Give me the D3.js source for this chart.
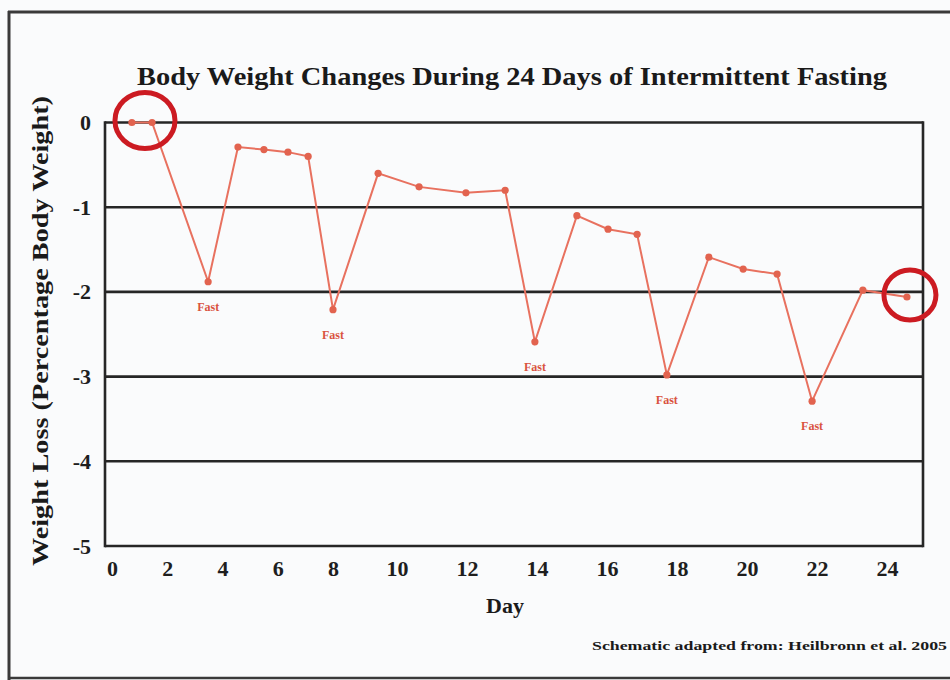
<!DOCTYPE html>
<html>
<head>
<meta charset="utf-8">
<script src="https://cdn.jsdelivr.net/npm/d3@7"></script>
<style>
  html, body { margin: 0; padding: 0; background: #fafbfc; }
  svg { display: block; }
  text { font-family: "Liberation Serif", "DejaVu Serif", serif; font-weight: bold; }
</style>
</head>
<body>
<svg id="chart" width="950" height="680"></svg>
<script>
// ---- data ----
const days = [0.72, 1.45, 3.48, 4.56, 5.5, 6.37, 7.1, 8.0, 9.41, 10.63, 11.97, 13.09, 13.94,
              15.14, 16.03, 16.86, 17.71, 18.91, 19.89, 20.86, 21.86, 23.31, 24.57];
const weightChange = [0, 0, -1.88, -0.29, -0.32, -0.35, -0.40, -2.21, -0.60, -0.76, -0.83, -0.80,
                      -2.59, -1.10, -1.26, -1.32, -2.98, -1.59, -1.73, -1.79, -3.29, -1.98, -2.06];
const fastIndex = [2, 7, 12, 16, 20];
const fastLabel = "Fast";
const xTicks = [0, 2, 4, 6, 8, 10, 12, 14, 16, 18, 20, 22, 24];
const yTicks = [0, -1, -2, -3, -4, -5];
const circledIndex = [[0, 1], [22]];
const titleText = "Body Weight Changes During 24 Days of Intermittent Fasting";
const xTitle = "Day";
const yTitle = "Weight Loss (Percentage Body Weight)";
const sourceText = "Schematic adapted from:  Heilbronn et al. 2005";

const svg = d3.select("#chart");

// outer frame
svg.append("line").attr("x1", 8).attr("x2", 950).attr("y1", 12).attr("y2", 12)
  .attr("stroke", "#3a3a3a").attr("stroke-width", 3);
svg.append("line").attr("x1", 9).attr("x2", 9).attr("y1", 11).attr("y2", 680)
  .attr("stroke", "#3a3a3a").attr("stroke-width", 3);
svg.append("line").attr("x1", 8).attr("x2", 950).attr("y1", 678).attr("y2", 678)
  .attr("stroke", "#3a3a3a").attr("stroke-width", 2.5);

// scales (the schematic's day axis is not uniform; piecewise linear)
const x = d3.scaleLinear().domain([0, 8, 10, 24]).range([112, 333, 397, 887]);
const y = d3.scaleLinear().domain([0, -5]).range([122.5, 546]);
const plotLeft = 105, plotRight = 923;

// gridlines
svg.append("g").selectAll("line").data(yTicks).join("line")
  .attr("x1", plotLeft).attr("x2", plotRight)
  .attr("y1", d => y(d)).attr("y2", d => y(d))
  .attr("stroke", "#262626").attr("stroke-width", 2.6);
// plot borders left/right
svg.append("line").attr("x1", plotLeft).attr("x2", plotLeft).attr("y1", y(0) - 1.3).attr("y2", y(-5) + 1.3)
  .attr("stroke", "#262626").attr("stroke-width", 2.6);
svg.append("line").attr("x1", plotRight).attr("x2", plotRight).attr("y1", y(0) - 1.3).attr("y2", y(-5) + 1.3)
  .attr("stroke", "#262626").attr("stroke-width", 2.6);

// y tick labels
const yAxis = d3.axisLeft(y).tickValues(yTicks).tickSize(0).tickPadding(14).tickFormat(d => d);
const gy = svg.append("g").attr("transform", `translate(${plotLeft},0)`).call(yAxis);
gy.select(".domain").remove();
gy.selectAll("text").attr("font-size", 22).attr("fill", "#1e1e1e")
  .style("font-family", "'Liberation Serif', serif").style("font-weight", "bold");

// x tick labels
const xAxis = d3.axisBottom(x).tickValues(xTicks).tickSize(0).tickPadding(14).tickFormat(d => d);
const gx = svg.append("g").attr("transform", `translate(0,${y(-5)})`).call(xAxis);
gx.select(".domain").remove();
gx.selectAll("text").attr("font-size", 22).attr("fill", "#1e1e1e")
  .style("font-family", "'Liberation Serif', serif").style("font-weight", "bold");

// title
svg.append("text").attr("x", 512).attr("y", 85).attr("text-anchor", "middle")
  .attr("font-size", 25).attr("fill", "#1a1a1a")
  .attr("textLength", 750).attr("lengthAdjust", "spacingAndGlyphs").text(titleText);

// axis titles
svg.append("text").attr("x", 505).attr("y", 613).attr("text-anchor", "middle")
  .attr("font-size", 22).attr("fill", "#1a1a1a").text(xTitle);
svg.append("text").attr("transform", `translate(48,${331}) rotate(-90)`).attr("text-anchor", "middle")
  .attr("font-size", 23).attr("fill", "#1a1a1a")
  .attr("textLength", 470).attr("lengthAdjust", "spacingAndGlyphs").text(yTitle);

// source note
svg.append("text").attr("x", 592).attr("y", 650)
  .attr("font-size", 11.5).attr("fill", "#1a1a1a")
  .attr("textLength", 355).attr("lengthAdjust", "spacingAndGlyphs").text(sourceText);

// series
const pts = days.map((d, i) => ({ day: d, v: weightChange[i], i }));
const line = d3.line().x(d => x(d.day)).y(d => y(d.v));
svg.append("path").datum(pts).attr("d", line)
  .attr("fill", "none").attr("stroke", "#e8715f").attr("stroke-width", 2);
svg.append("g").selectAll("circle").data(pts).join("circle")
  .attr("cx", d => x(d.day)).attr("cy", d => y(d.v)).attr("r", 3.6)
  .attr("fill", "#e2634f");

// "Fast" labels
svg.append("g").selectAll("text").data(fastIndex.map(i => pts[i])).join("text")
  .attr("x", d => x(d.day)).attr("y", d => y(d.v) + 29).attr("text-anchor", "middle")
  .attr("font-size", 12).attr("fill", "#d9533f").text(fastLabel);

// hand-drawn circles
svg.append("g").selectAll("ellipse").data(circledIndex).join("ellipse")
  .attr("cx", g => d3.mean(g, i => x(pts[i].day)) + 3)
  .attr("cy", g => d3.mean(g, i => y(pts[i].v)) - 2)
  .attr("rx", g => g.length > 1 ? 30 : 26)
  .attr("ry", g => g.length > 1 ? 28 : 25)
  .attr("fill", "none").attr("stroke", "#cc1b22").attr("stroke-width", 5);
</script>
</body>
</html>
